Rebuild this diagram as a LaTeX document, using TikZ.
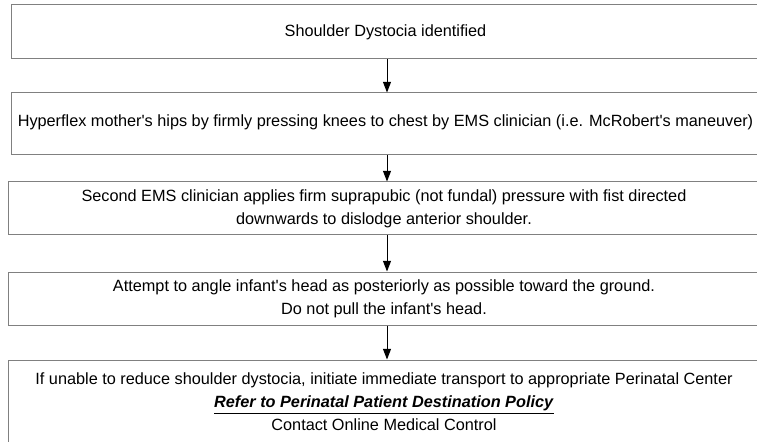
\documentclass[tikz,border=0pt]{standalone}
\usepackage{fontspec}
\setmainfont{Liberation Sans}[Ligatures=TeXOff]
\usepackage{tikz}
\usetikzlibrary{arrows.meta, positioning, calc}

\begin{document}
\begin{tikzpicture}[x=0.75pt, y=-0.75pt,
    box/.style={draw=black!50, line width=0.75pt, align=center, inner sep=0pt,
        font=\fontsize{12.2}{17.25}\selectfont},
    arrow/.style={draw=black, line width=0.75pt, -{Triangle[width=6pt,length=8pt]}}]

            % Khung hình
            \useasboundingbox (0,0) rectangle (757,442);
            \clip (0,0) rectangle (757,442);

            % Vẽ các hộp
            \node[box, minimum width=561.75pt, minimum height=40.5pt] (b1) at (385.5,32)
                {\raisebox{0.75pt}{Shoulder Dystocia identified}};
            \node[box, minimum width=561.75pt, minimum height=46.5pt] (b2) at (385.5,124)
                {\raisebox{4.5pt}{Hyperflex mother's hips by firmly pressing knees to chest by EMS clinician (i.e. McRobert's maneuver)}};
            \node[box, minimum width=564pt, minimum height=39.75pt] (b3) at (384,208.5)
                {\raisebox{2.25pt}{\begin{tabular}{@{}c@{}}Second EMS clinician applies firm suprapubic (not fundal) pressure with fist directed\\downwards to dislodge anterior shoulder.\end{tabular}}};
            \node[box, minimum width=564pt, minimum height=39.75pt] (b4) at (384,298.5)
                {Attempt to angle infant's head as posteriorly as possible toward the ground.\\Do not pull the infant's head.};
            \node[box, minimum width=564pt, minimum height=64.5pt] (b5) at (384,403)
                {\raisebox{3.75pt}{\begin{tabular}{@{}c@{}}If unable to reduce shoulder dystocia, initiate immediate transport to appropriate Perinatal Center\\
                 \underline{\textbf{\textit{Refer to Perinatal Patient Destination Policy}}}\\
                 Contact Online Medical Control\end{tabular}}};

            % Vẽ mũi tên
            \coordinate (ax) at (387,0);
            \draw[arrow] (b1.south -| ax) -- (b2.north -| ax);
            \draw[arrow] (b2.south -| ax) -- (b3.north -| ax);
            \draw[arrow] (b3.south -| ax) -- (b4.north -| ax);
            \draw[arrow] (b4.south -| ax) -- (b5.north -| ax);

\end{tikzpicture}
\end{document}
